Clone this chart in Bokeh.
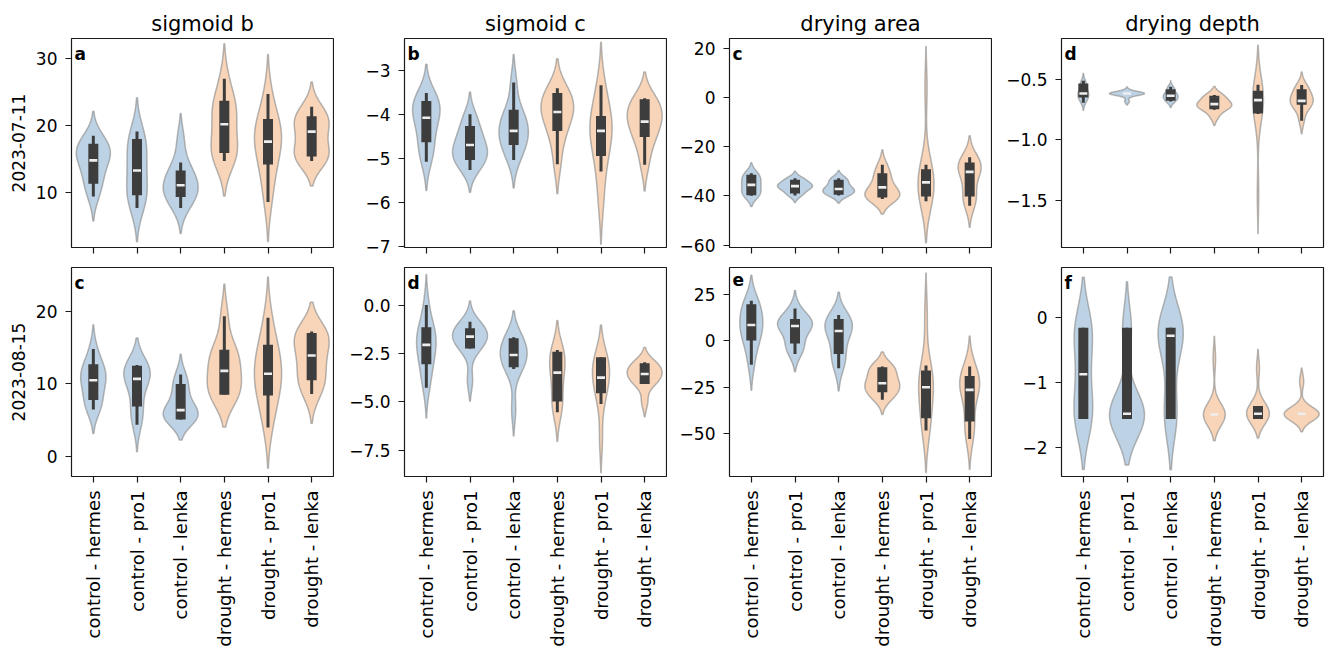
import numpy as np
from bokeh.plotting import figure
from bokeh.layouts import column, row
from bokeh.models import FixedTicker, Range1d, Label, CustomJSTickFormatter, ColumnDataSource
from bokeh.embed import file_html
from bokeh.resources import INLINE

groups = ["control - hermes", "control - pro1", "control - lenka",
          "drought - hermes", "drought - pro1", "drought - lenka"]
treatment = ["control", "control", "control", "drought", "drought", "drought"]
variables = ["sigmoid b", "sigmoid c", "drying area", "drying depth"]
dates = ["2023-07-11", "2023-08-15"]
panel_tags = [["a", "b", "c", "d"], ["c", "d", "e", "f"]]

# ---- observations per group (order as in `groups`) ----
sig_b_0711 = [
    [9.4, 11.3, 12.2, 14.0, 14.8, 15.5, 16.2, 16.8, 17.3, 18.5],
    [7.7, 9.0, 9.6, 11.0, 12.5, 14.0, 15.5, 17.0, 18.0, 19.1],
    [7.7, 9.0, 9.4, 10.5, 10.9, 11.3, 12.3, 13.3, 14.5, 18.0],
    [14.7, 15.5, 15.9, 17.0, 18.5, 21.0, 22.0, 23.0, 23.7, 27.0],
    [8.6, 12.0, 14.1, 16.0, 17.5, 17.9, 19.0, 20.5, 21.0, 24.7],
    [14.7, 15.0, 15.3, 16.5, 17.5, 19.5, 20.0, 21.0, 21.4, 22.8],
]
sig_c_0711 = [
    [-5.08, -4.8, -4.64, -4.3, -4.15, -4.0, -3.85, -3.75, -3.70, -3.52],
    [-5.27, -5.1, -5.04, -4.9, -4.8, -4.75, -4.6, -4.4, -4.27, -4.0],
    [-5.04, -4.8, -4.70, -4.5, -4.4, -4.35, -4.2, -4.0, -3.9, -3.28],
    [-5.14, -4.6, -4.38, -4.1, -4.0, -3.9, -3.8, -3.65, -3.52, -3.41],
    [-5.98, -5.30, -4.95, -4.6, -4.4, -4.35, -4.2, -4.04, -3.7, -3.34],
    [-5.15, -4.7, -4.52, -4.3, -4.2, -4.1, -3.95, -3.85, -3.7, -3.64],
]
area_0711 = [
    [-40.0, -39.7, -39.0, -37.5, -36.0, -35.0, -34.0, -32.5, -31.4, -30.8],
    [-39.8, -39.0, -37.5, -36.5, -36.2, -36.0, -35.5, -34.5, -33.4, -32.8],
    [-39.8, -39.5, -38.5, -38.0, -37.5, -37.0, -36.0, -34.5, -33.4, -32.8],
    [-41.3, -40.8, -40.6, -39.8, -38.8, -37.5, -35.5, -32.5, -30.8, -27.3],
    [-42.2, -41.0, -40.2, -37.0, -35.0, -34.0, -31.0, -29.1, -27.3, 4.0],
    [-44.0, -41.0, -40.2, -35.0, -31.0, -29.5, -28.0, -27.0, -26.4, -24.3],
]
depth_0711 = [
    [-0.685, -0.66, -0.647, -0.63, -0.62, -0.61, -0.59, -0.56, -0.535, -0.515],
    [-0.68, -0.635, -0.618, -0.616, -0.615, -0.614, -0.613, -0.611, -0.608, -0.59],
    [-0.68, -0.675, -0.66, -0.645, -0.635, -0.63, -0.62, -0.6, -0.578, -0.558],
    [-0.81, -0.749, -0.744, -0.72, -0.705, -0.70, -0.695, -0.66, -0.633, -0.627],
    [-1.45, -0.785, -0.78, -0.72, -0.68, -0.66, -0.63, -0.6, -0.591, -0.542],
    [-0.84, -0.75, -0.708, -0.69, -0.68, -0.67, -0.64, -0.6, -0.578, -0.544],
]
sig_b_0815 = [
    [6.5, 7.2, 7.8, 9.5, 10.3, 10.7, 11.5, 12.2, 12.7, 14.8],
    [4.4, 6.0, 6.9, 9.5, 10.5, 10.9, 11.5, 12.2, 12.5, 12.6],
    [5.1, 5.1, 5.2, 5.8, 6.2, 6.6, 7.5, 9.0, 10.0, 11.3],
    [8.5, 8.5, 8.6, 10.0, 11.0, 12.5, 13.5, 14.5, 14.7, 19.3],
    [4.0, 7.0, 8.4, 10.0, 11.0, 11.8, 13.0, 15.0, 15.4, 19.1],
    [8.6, 10.0, 10.5, 12.0, 13.5, 14.3, 16.0, 16.8, 17.0, 17.2],
]
sig_c_0815 = [
    [-4.27, -3.5, -3.06, -2.5, -2.2, -1.9, -1.6, -1.3, -1.15, 0.0],
    [-3.9, -2.25, -2.2, -1.9, -1.7, -1.6, -1.4, -1.25, -1.2, -0.86],
    [-5.4, -3.30, -3.22, -2.9, -2.7, -2.5, -2.3, -2.0, -1.72, -1.67],
    [-5.54, -5.2, -4.99, -4.2, -3.7, -3.3, -3.0, -2.6, -2.41, -2.32],
    [-7.0, -5.11, -4.56, -4.0, -3.8, -3.7, -3.3, -2.9, -2.7, -2.7],
    [-5.0, -4.08, -4.0, -3.8, -3.6, -3.5, -3.4, -3.2, -3.01, -2.96],
]
area_0815 = [
    [-12.9, -3.0, 0.2, 5.0, 8.0, 9.2, 12.0, 17.0, 19.8, 21.8],
    [-7.0, -3.0, -1.3, 5.0, 7.5, 8.7, 10.0, 11.0, 11.9, 17.6],
    [-14.7, -9.0, -7.0, 1.0, 4.5, 6.3, 8.5, 10.5, 11.9, 14.0],
    [-31.8, -28.5, -27.7, -25.0, -23.5, -22.1, -20.0, -16.0, -14.2, -13.8],
    [-48.4, -44.0, -41.7, -30.0, -26.0, -24.0, -20.0, -17.0, -16.0, 14.0],
    [-52.9, -46.0, -43.5, -30.0, -27.5, -25.3, -22.0, -20.0, -18.9, -13.8],
]
depth_0815 = [
    [-1.56, -1.56, -1.5, -1.4, -0.9, -0.85, -0.3, -0.2, -0.154, -0.154],
    [-1.56, -1.56, -1.55, -1.52, -1.5, -1.48, -1.46, -1.35, -0.2, -0.154],
    [-1.56, -1.56, -1.4, -0.8, -0.3, -0.26, -0.2, -0.154, -0.154, -0.154],
    [-1.55, -1.52, -1.5, -1.49, -1.49, -1.49, -1.48, -1.47, -1.45, -0.63],
    [-1.56, -1.56, -1.55, -1.5, -1.48, -1.47, -1.4, -1.36, -1.35, -0.78],
    [-1.55, -1.52, -1.5, -1.49, -1.48, -1.48, -1.47, -1.45, -1.42, -0.98],
]

# ---- box statistics: (lower whisker, q1, median, q3, upper whisker) ----
sig_b_0711_box = [(9.4, 11.3, 14.8, 17.3, 18.5), (7.7, 9.6, 13.3, 18.0, 19.1),
                  (7.7, 9.35, 11.1, 13.3, 14.5), (14.7, 15.9, 20.2, 23.7, 27.0),
                  (8.6, 14.2, 17.6, 21.0, 24.7), (14.7, 15.4, 19.1, 21.4, 22.8)]
sig_c_0711_box = [(-5.08, -4.64, -4.08, -3.70, -3.52), (-5.27, -5.04, -4.70, -4.27, -4.0),
                  (-5.04, -4.70, -4.38, -3.90, -3.28), (-5.14, -4.38, -3.95, -3.52, -3.41),
                  (-5.30, -4.95, -4.38, -4.04, -3.34), (-5.15, -4.52, -4.17, -3.66, -3.64)]
area_0711_box = [(-39.9, -39.7, -35.5, -31.4, -30.8), (-39.8, -39.0, -36.0, -33.4, -32.8),
                 (-39.8, -39.5, -37.2, -33.4, -32.8), (-41.3, -40.6, -36.5, -30.8, -27.3),
                 (-42.2, -40.2, -34.5, -29.1, -27.3), (-44.0, -40.2, -30.2, -26.4, -24.3)]
depth_0711_box = [(-0.69, -0.647, -0.614, -0.53, -0.508), (-0.614, -0.614, -0.614, -0.614, -0.614),
                  (-0.68, -0.675, -0.633, -0.578, -0.558), (-0.749, -0.744, -0.702, -0.633, -0.627),
                  (-0.785, -0.78, -0.669, -0.591, -0.542), (-0.84, -0.708, -0.675, -0.578, -0.544)]
sig_b_0815_box = [(6.5, 7.8, 10.5, 12.7, 14.8), (4.4, 6.9, 10.7, 12.5, 12.6),
                  (5.1, 5.1, 6.4, 10.0, 11.3), (8.5, 8.5, 11.8, 14.7, 19.3),
                  (4.0, 8.4, 11.4, 15.4, 19.1), (8.6, 10.5, 13.9, 17.0, 17.2)]
sig_c_0815_box = [(-4.27, -3.06, -2.06, -1.15, 0.0), (-2.25, -2.25, -1.63, -1.2, -0.86),
                  (-3.30, -3.22, -2.58, -1.72, -1.67), (-5.54, -4.99, -3.49, -2.41, -2.32),
                  (-5.11, -4.56, -3.75, -2.70, -2.70), (-4.08, -4.08, -3.56, -3.01, -2.96)]
area_0815_box = [(-12.9, 0.2, 8.6, 19.8, 21.8), (-7.0, -1.3, 8.1, 11.9, 17.6),
                 (-14.7, -7.0, 5.4, 11.9, 14.0), (-31.8, -27.7, -22.8, -14.2, -13.8),
                 (-48.4, -41.7, -25.0, -16.0, -13.3), (-52.9, -43.5, -26.4, -18.9, -13.8)]
depth_0815_box = [(-1.56, -1.56, -0.87, -0.154, -0.154), (-1.56, -1.56, -1.48, -0.154, -0.154),
                  (-1.56, -1.56, -0.277, -0.154, -0.154), (-1.49, -1.49, -1.49, -1.49, -1.49),
                  (-1.56, -1.56, -1.48, -1.36, -1.36), (-1.48, -1.48, -1.48, -1.48, -1.48)]

# ---- axis limits and ticks ----
ylims_0711 = [(1.8, 33.0), (-7.03, -2.28), (-61.0, 24.1), (-1.893, -0.157)]
ylims_0815 = [(-2.72, 26.0), (-8.86, 1.94), (-73.2, 39.7), (-2.446, 0.774)]
yticks_0711 = [[10, 20, 30], [-7, -6, -5, -4, -3], [-60, -40, -20, 0, 20], [-1.5, -1.0, -0.5]]
yticks_0815 = [[0, 10, 20], [-7.5, -5.0, -2.5, 0.0], [-50, -25, 0, 25], [-2, -1, 0]]

rows_data = [
    [(sig_b_0711, sig_b_0711_box), (sig_c_0711, sig_c_0711_box),
     (area_0711, area_0711_box), (depth_0711, depth_0711_box)],
    [(sig_b_0815, sig_b_0815_box), (sig_c_0815, sig_c_0815_box),
     (area_0815, area_0815_box), (depth_0815, depth_0815_box)],
]
rows_ylim = [ylims_0711, ylims_0815]
rows_ticks = [yticks_0711, yticks_0815]

FONT = "DejaVu Sans"
FILL = {"control": "#bdd3e5", "drought": "#f8d5b8"}
EDGE = "#8e8e8e"
BOX = "#3d3d3d"
INK = "#1a1a1a"

LEFT = [71, 70, 62, 69]
RIGHT = [1, 1, 1, 2]
FRAME_W, FRAME_H = 262, 209


def kde(vals, gridsize=100, cut=2.0):
    v = np.asarray(vals, dtype=float)
    n = v.size
    bw = v.std(ddof=1) * n ** (-1.0 / 5.0)
    grid = np.linspace(v.min() - cut * bw, v.max() + cut * bw, gridsize)
    z = (grid[:, None] - v[None, :]) / bw
    dens = np.exp(-0.5 * z * z).sum(axis=1) / (n * bw * np.sqrt(2 * np.pi))
    return grid, dens


def build_panel(r, c):
    samples, box = rows_data[r][c]
    ylim = rows_ylim[r][c]
    ticks = rows_ticks[r][c]
    top = 38 if r == 0 else 1
    bottom = 19 if r == 0 else 175
    p = figure(width=LEFT[c] + FRAME_W + RIGHT[c], height=top + FRAME_H + bottom,
               x_range=Range1d(-0.5, 5.5), y_range=Range1d(*ylim),
               output_backend="svg", toolbar_location=None,
               min_border_left=LEFT[c], min_border_right=RIGHT[c],
               min_border_top=top, min_border_bottom=bottom)
    if r == 0:
        p.title.text = variables[c]
        p.title.text_font = FONT
        p.title.text_font_size = "21px"
        p.title.text_font_style = "normal"
        p.title.text_color = "black"
        p.title.align = "center"
        p.title.standoff = 6
    p.xgrid.visible = False
    p.ygrid.visible = False
    p.outline_line_color = INK
    p.outline_line_width = 1.2
    p.background_fill_color = "white"
    p.border_fill_color = "white"

    # violins: KDE outlines, area-normalised within each treatment
    shapes = [kde(s) for s in samples]
    peak = {}
    for t, (g, d) in zip(treatment, shapes):
        peak[t] = max(peak.get(t, 0.0), d.max())
    xs, ys, fills = [], [], []
    for i, ((g, d), t) in enumerate(zip(shapes, treatment)):
        w = 0.4 * d / peak[t]
        xs.append(np.concatenate([i + w, (i - w)[::-1]]))
        ys.append(np.concatenate([g, g[::-1]]))
        fills.append(FILL[t])
    p.patches(xs="xs", ys="ys", fill_color="fill", line_color=EDGE, line_alpha=0.65,
              line_width=1.5, source=ColumnDataSource(dict(xs=xs, ys=ys, fill=fills)))

    pos = list(range(len(groups)))
    lo = [b[0] for b in box]
    q1 = [b[1] for b in box]
    med = [b[2] for b in box]
    q3 = [b[3] for b in box]
    hi = [b[4] for b in box]
    p.segment(x0=pos, y0=lo, x1=pos, y1=hi, line_color=BOX, line_width=3, line_cap="butt")
    p.segment(x0=pos, y0=q1, x1=pos, y1=q3, line_color=BOX, line_width=10, line_cap="butt")
    p.scatter(x=pos, y=med, marker="dash", size=8, line_width=2.6, line_color="#eeeeee")

    # panel tag
    p.add_layout(Label(x=-0.5, y=ylim[1], x_offset=3, y_offset=-5, text=panel_tags[r][c],
                       text_font=FONT, text_font_size="17px", text_font_style="bold",
                       text_baseline="top", text_align="left", text_color="black"))

    xa = p.xaxis[0]
    ya = p.yaxis[0]
    for ax in (xa, ya):
        ax.axis_line_color = None
        ax.major_tick_in = 0
        ax.major_tick_out = 6
        ax.major_tick_line_color = INK
        ax.major_tick_line_width = 1.2
        ax.minor_tick_line_color = None
        ax.major_label_text_font = FONT
        ax.major_label_text_font_size = "17px"
        ax.major_label_text_color = "black"
    xa.ticker = FixedTicker(ticks=pos)
    if r == 1:
        xa.formatter = CustomJSTickFormatter(args=dict(names=groups),
                                             code="return names[Math.round(tick)];")
    else:
        xa.formatter = CustomJSTickFormatter(code="return '';")
    xa.major_label_orientation = np.pi / 2
    xa.major_label_text_font_size = "18px"
    xa.major_label_standoff = 8

    dec = 1 if any(float(t) != int(t) for t in ticks) else 0
    ya.ticker = FixedTicker(ticks=ticks)
    ya.formatter = CustomJSTickFormatter(args=dict(d=dec),
                                         code="return tick.toFixed(d).replace('-', '\u2212');")
    ya.major_label_standoff = 8
    if c == 0:
        ya.axis_label = dates[r]
        ya.axis_label_text_font = FONT
        ya.axis_label_text_font_size = "17px"
        ya.axis_label_text_font_style = "normal"
        ya.axis_label_text_color = "black"
        ya.axis_label_standoff = 8
    return p


layout = column(
    row(*[build_panel(0, c) for c in range(4)]),
    row(*[build_panel(1, c) for c in range(4)]),
)

open("out.html", "w").write(file_html(layout, INLINE))
